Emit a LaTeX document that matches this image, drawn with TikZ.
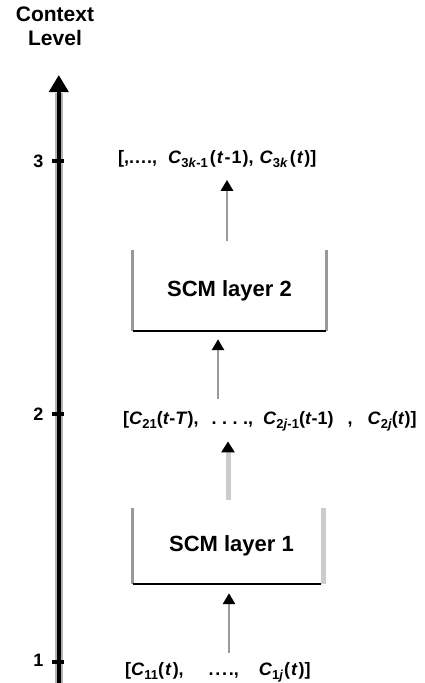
\documentclass[tikz,border=0pt]{standalone}
\usepackage{fontspec}
\setmainfont{Liberation Sans}
\usetikzlibrary{arrows.meta,calc}

% context symbol C with a lowered subscript, and the italic time variable
\newcommand{\Cs}[1]{\textit{C}\raisebox{-4.5pt}{\fontsize{13}{14}\selectfont #1}}
\newcommand{\tv}{\textit{t}}
\newcommand{\gp}[1]{\hspace{#1pt}}

\begin{document}
\begin{tikzpicture}[x=1pt,y=-1pt,
  lab/.style={inner sep=0pt, anchor=base west, font=\fontsize{18}{20}\selectfont\bfseries},
  num/.style={inner sep=0pt, font=\fontsize{18}{20}\selectfont\bfseries},
  layerbox/.style={inner sep=0pt, font=\fontsize{22}{24}\selectfont\bfseries},
  axisline/.style={line width=4pt, black, -{Triangle[width=19pt,length=17pt]}},
  axishalo/.style={line width=7.5pt, black!30},
  tick/.style={line width=4pt, black},
  arr/.style={line width=2.8pt, black!40, -{Triangle[width=12pt,length=11pt,black]}},
  arrlight/.style={line width=5pt, black!20, -{Triangle[width=13pt,length=11pt,black]}},
  side/.style={line width=2.7pt, black!40},
  sidelight/.style={line width=5pt, black!20},
  base/.style={line width=2pt, black}
]
\useasboundingbox (0,0) rectangle (425,683);

% vertical context-level axis
\coordinate (axbot) at (58.8,683);
\coordinate (axtop) at (58.8,75);
\draw[axishalo] (axbot) -- ([yshift=-18pt]axtop);
\draw[axisline] (axbot) -- (axtop);
\node[align=center, inner sep=0pt, font=\fontsize{21}{24}\selectfont\bfseries] (ctx) at (55,26) {Context\\Level};

% ticks and level numbers
\foreach \lv/\yy/\ny in {3/161/161, 2/414/414, 1/662/660} {
  \coordinate (t\lv) at (58,\yy);
  \draw[tick] ([xshift=-6pt]t\lv) -- ([xshift=6pt]t\lv);
  \node[num] (n\lv) at (38.5,\ny) {\lv};
}

% context vectors at each level
\node[lab] (lvl3) at (118,163) {[,.\gp{1}.\gp{1}.\gp{1}.,\gp{11}\Cs{3\textit{k}-1}\gp{2}(\gp{1}\tv\gp{1}-\gp{1}1\gp{1}),\gp{6}\Cs{3\textit{k}}\gp{2}(\gp{1}\tv\gp{1})]};
\node[lab] (lvl2) at (123,424) {[\Cs{21}(\tv-\textit{T}),\gp{13}.\gp{5.5}.\gp{5.5}.\gp{5.5}.,\gp{10}\Cs{2\textit{j}-1}(\tv-1)\gp{14},\gp{15}\Cs{2\textit{j}}(\tv)]};
\node[lab] (lvl1) at (125,675) {[\Cs{11}(\gp{1}\tv\gp{1}),\gp{25}.\gp{1.7}.\gp{1.7}.\gp{1.7}.,\gp{20}\Cs{1\textit{j}}\gp{1}(\gp{1}\tv\gp{1})]};

% SCM layers (open at the top)
\node[layerbox, minimum width=193pt, minimum height=81pt] (box2) at (229.5,290.5) {SCM layer 2};
\node[layerbox, minimum width=191pt, minimum height=76pt] (box1) at (228.5,546) {\hspace{6pt}SCM layer 1};

\draw[side] (box2.north west) -- (box2.south west);
\draw[side] (box2.north east) -- (box2.south east);
\draw[base] (box2.south west) -- (box2.south east);

\draw[side] (box1.north west) -- (box1.south west);
\draw[sidelight] ([xshift=-1pt]box1.north east) -- ([xshift=-1pt]box1.south east);
\draw[base] (box1.south west) -- ([xshift=-3pt]box1.south east);

% columns of the connectors between levels
\coordinate (col3) at ($(box2.north)+(-2.5,0)$);
\coordinate (col2) at ($(box2.south)+(-11.5,0)$);
\coordinate (col2b) at ($(box1.north)+(-0.5,0)$);
\coordinate (col1) at ($(box1.south)+(0.5,0)$);

% flow between levels
\draw[arr, shorten <=9pt, shorten >=12pt] (col3) -- (col3 |- lvl3.south);
\draw[arr, shorten <=12pt, shorten >=8pt] (col2 |- lvl2.north) -- (col2);
\draw[arrlight, shorten <=8pt, shorten >=10pt] (col2b) -- (col2b |- lvl2.south);
\draw[arr, shorten <=9pt, shorten >=9pt] (col1 |- lvl1.north) -- (col1);
\end{tikzpicture}
\end{document}
